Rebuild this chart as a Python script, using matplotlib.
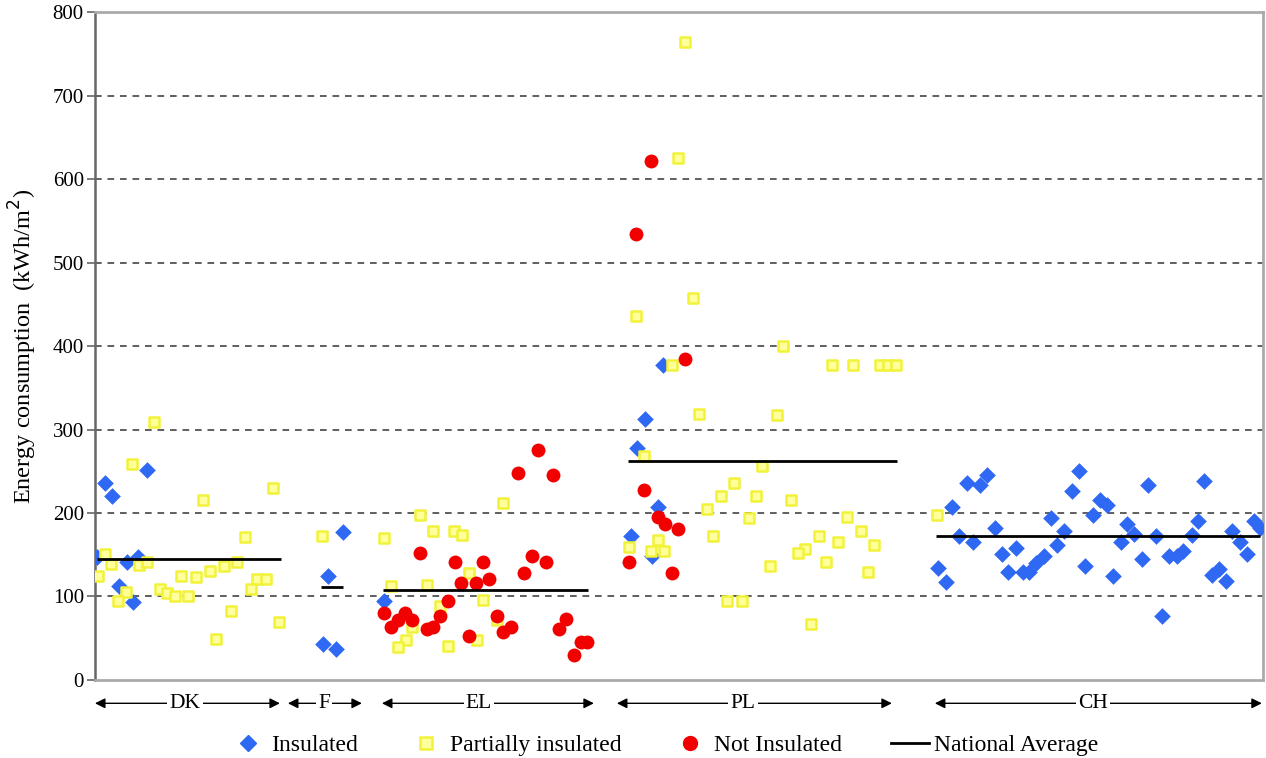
import matplotlib
matplotlib.use("Agg")
import matplotlib.pyplot as plt
from matplotlib.lines import Line2D

plt.rcParams['font.family'] = ['Liberation Serif', 'DejaVu Serif']

# building positions along the x axis (arbitrary units) and energy use, kWh/m2
ins_x = [2, 10, 17, 32, 43, 52, 24, 38,
         248, 233, 228, 241,
         289,
         550, 542, 563, 536, 557, 568,
         843, 851, 857, 864, 878, 872, 885, 892, 900, 907, 913, 921, 928, 934,
         941, 949, 956, 962, 969, 977, 984, 990, 998, 1005, 1012, 1018, 1026,
         1032, 1039, 1047, 1053, 1061, 1067, 1074, 1082, 1088, 1097, 1103,
         1109, 1117, 1124, 1131, 1137, 1145, 1152, 1159, 1165]
ins_y = [147, 236, 220, 141, 147, 252, 112, 93,
         177, 124, 43, 37,
         94,
         313, 278, 207, 172, 148, 377,
         134, 117, 207, 173, 165, 236, 233, 246, 182, 151, 129, 158, 129, 129,
         140, 149, 194, 162, 179, 226, 250, 137, 197, 216, 210, 125, 165,
         187, 175, 145, 234, 173, 77, 149, 148, 155, 174, 190,
         238, 126, 133, 119, 179, 165, 151, 190, 182]

part_x = [59, 37, 178, 108, 150, 10, 16, 3, 44, 52, 86, 101, 115, 129, 142,
          162, 171, 156, 65, 72, 80, 93, 31, 23, 136, 121, 184,
          227,
          289, 325, 338, 359, 367, 408, 296, 332, 374, 388, 345, 317, 311,
          303, 353, 382, 402,
          590, 583, 541, 598, 688, 577, 737, 758, 785, 793, 801, 604, 682,
          549, 667, 639, 626, 661, 696, 612, 654, 752, 766, 563, 618, 724,
          743, 779, 534, 556, 569, 710, 703, 731, 675, 773, 632, 647, 716,
          842]
part_y = [309, 259, 230, 216, 171, 151, 139, 124, 138, 141, 125, 123, 130, 136, 141,
          121, 121, 109, 109, 104, 101, 101, 105, 95, 83, 49, 69,
          173,
          170, 197, 178, 179, 174, 212, 113, 114, 128, 96, 88, 63, 48,
          39, 41, 48, 72,
          764, 625, 436, 458, 400, 377, 377, 377, 377, 377, 377, 319, 317,
          268, 256, 236, 220, 220, 216, 205, 194, 195, 179, 168, 172, 172,
          165, 162, 159, 155, 155, 157, 152, 141, 137, 129, 94, 95, 67,
          198]

not_x = [443, 423, 458, 325, 360, 388, 437, 451, 429, 394, 366, 381, 353,
         289, 296, 303, 310, 317, 332, 338, 345, 374, 402, 408, 416, 471,
         464, 479, 486, 492,
         556, 541, 590, 549, 563, 570, 583, 534, 577]
not_y = [276, 248, 246, 152, 141, 141, 148, 141, 128, 121, 116, 116, 94,
         80, 64, 72, 80, 72, 61, 63, 76, 53, 77, 57, 64, 73,
         61, 30, 45, 46,
         622, 534, 384, 228, 195, 187, 181, 141, 128]

countries = ['DK', 'F', 'EL', 'PL', 'CH']
avg_start = [2, 226, 288, 533, 841]
avg_end = [186, 248, 493, 802, 1165]
avg_value = [145, 111, 108, 262, 173]
span_start = [0, 193, 287, 522, 840]
span_end = [185, 267, 499, 797, 1167]
label_x = [90, 229, 384, 648, 998]

blue = '#2f68f2'
yellow_edge = '#f2f23a'
yellow_face = '#ffff9c'
red = '#f20000'

fig = plt.figure(figsize=(12.66, 7.58), dpi=100)
ax = fig.add_axes([0.075, 0.103, 0.9225, 0.881])

ax.scatter(ins_x, ins_y, marker='D', s=72, color=blue, linewidths=0, zorder=3)
ax.scatter(part_x, part_y, marker='s', s=58, facecolor=yellow_face,
           edgecolor=yellow_edge, linewidths=1.8, zorder=4)
ax.scatter(not_x, not_y, marker='o', s=100, color=red, linewidths=0, zorder=5)
ax.hlines(avg_value, avg_start, avg_end, colors='black', linewidth=2, zorder=6)

ax.set_xlim(0, 1168)
ax.set_ylim(0, 800)
ax.set_yticks(range(0, 801, 100))
ax.set_xticks([])
ax.tick_params(axis='y', labelsize=15, length=6, width=1.2, color='#666666', pad=2)
for v in range(100, 800, 100):
    ax.axhline(v, color='#444444', linewidth=1.2, linestyle=(0, (4, 3.5)), zorder=1)

for side in ['top', 'right', 'bottom']:
    ax.spines[side].set_color('#aaaaaa')
    ax.spines[side].set_linewidth(2)
ax.spines['left'].set_color('#666666')
ax.spines['left'].set_linewidth(1.8)

ax.set_ylabel('Energy consumption  (kWh/m$^2$)', fontsize=17.5, labelpad=10)

# country spans below the axis
trans = ax.get_xaxis_transform()
for name, x0, x1, xl in zip(countries, span_start, span_end, label_x):
    ax.annotate('', xy=(x0, -0.035), xytext=(x1, -0.035), xycoords=trans,
                textcoords=trans, annotation_clip=False,
                arrowprops=dict(arrowstyle='<|-|>', color='black', lw=1.0,
                                mutation_scale=15, shrinkA=0, shrinkB=0))
    ax.text(xl, -0.035, name, transform=trans, ha='center', va='center',
            fontsize=15.5, bbox=dict(facecolor='white', edgecolor='none', pad=1.5),
            clip_on=False)

handles = [
    Line2D([], [], marker='D', linestyle='none', color=blue, markersize=8),
    Line2D([], [], marker='s', linestyle='none', markerfacecolor=yellow_face,
           markeredgecolor=yellow_edge, markeredgewidth=1.8, markersize=8),
    Line2D([], [], marker='o', linestyle='none', color=red, markersize=10),
    Line2D([], [], color='black', linewidth=2),
]
labels = ['Insulated', 'Partially insulated', 'Not Insulated', 'National Average']
fig.legend(handles, labels, loc='center', bbox_to_anchor=(0.524, 0.017), ncol=4,
           frameon=False, fontsize=17, handlelength=1.6, handletextpad=0.2,
           columnspacing=2.1, borderaxespad=0)

fig.savefig('out.png', dpi=100)
